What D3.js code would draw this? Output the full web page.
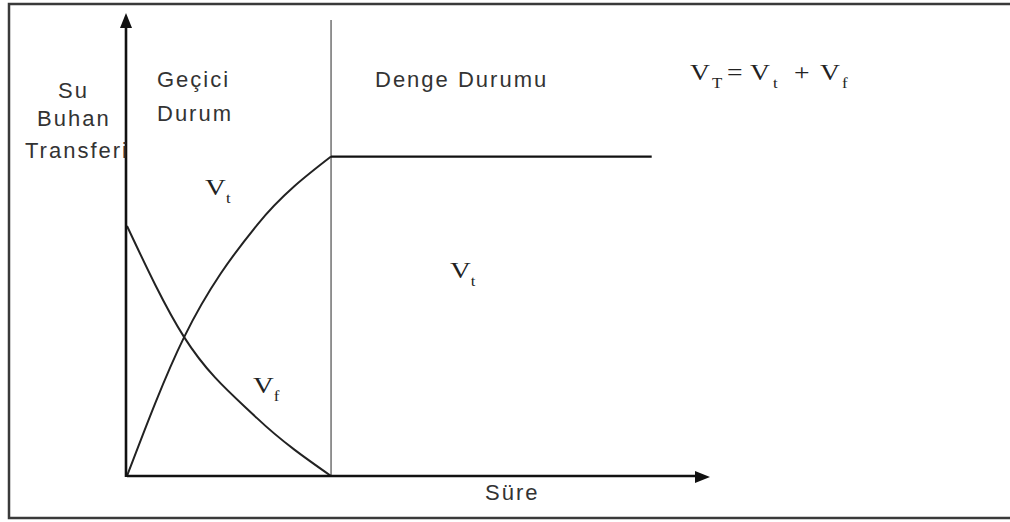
<!DOCTYPE html>
<html>
<head>
<meta charset="utf-8">
<script src="https://cdn.jsdelivr.net/npm/d3@7"></script>
<style>
  html, body { margin: 0; padding: 0; background: #fff; }
  svg { display: block; }
</style>
</head>
<body>
<script>
const WIDTH = 1010;
const HEIGHT = 522;
const SANS = "'Liberation Sans', Arial, sans-serif";
const SERIF = "'Liberation Serif', 'Times New Roman', serif";

// time where the transient state ends
const TRANSITION = 3.5;

// V_t, transient part (rising)
const TIME_VT = [0, 0.98, 2.23, 3.5];
const VT = [0, 3.0, 5.42, 6.9];

// V_f (falling)
const TIME_VF = [0, 0.98, 2.23, 3.5];
const VF = [5.4, 3.0, 1.25, 0];

// V_t, steady state
const TIME_STEADY = [3.5, 9.0];
const VT_STEADY = [6.9, 6.9];

// curve labels: main letter, subscript, anchor in data units
const LABEL_TEXT = ["V", "V", "V"];
const LABEL_SUB = ["t", "t", "f"];
const LABEL_T = [1.34, 5.54, 2.16];
const LABEL_V = [6.07, 4.28, 1.79];

const svg = d3.select("body").append("svg")
  .attr("width", WIDTH).attr("height", HEIGHT);

// frame (right edge falls outside the picture)
svg.append("rect")
  .attr("x", 9).attr("y", 4)
  .attr("width", 1100).attr("height", 514)
  .attr("fill", "none").attr("stroke", "#3a3a3a").attr("stroke-width", 2.5);

const x = d3.scaleLinear().domain([0, 10]).range([127, 710]);
const y = d3.scaleLinear().domain([0, 10]).range([476, 13]);

const zip = (ts, vs) => ts.map((t, i) => [t, vs[i]]);

const line = d3.line()
  .x(d => x(d[0]))
  .y(d => y(d[1]))
  .curve(d3.curveMonotoneX);

// divider between transient and steady state
svg.append("line")
  .attr("x1", x(TRANSITION)).attr("x2", x(TRANSITION))
  .attr("y1", 20).attr("y2", y(0))
  .attr("stroke", "#666").attr("stroke-width", 1.4);

svg.append("path")
  .attr("d", line(zip(TIME_VT, VT)))
  .attr("fill", "none").attr("stroke", "#222").attr("stroke-width", 2);

svg.append("path")
  .attr("d", line(zip(TIME_VF, VF)))
  .attr("fill", "none").attr("stroke", "#222").attr("stroke-width", 2);

svg.append("path")
  .attr("d", d3.line().x(d => x(d[0])).y(d => y(d[1]))(zip(TIME_STEADY, VT_STEADY)))
  .attr("fill", "none").attr("stroke", "#111").attr("stroke-width", 2.2);

// axes with arrowheads
const [x0, x1] = x.range();
const [y0, y1] = y.range();

svg.append("line")
  .attr("x1", x0).attr("x2", x1 - 10).attr("y1", y0).attr("y2", y0)
  .attr("stroke", "#111").attr("stroke-width", 2.6);
svg.append("path")
  .attr("d", `M${x1},${y0 + 1}L${x1 - 15},${y0 - 5}L${x1 - 15},${y0 + 7}Z`)
  .attr("fill", "#111");

svg.append("line")
  .attr("x1", x0 - 1).attr("x2", x0 - 1).attr("y1", y0 + 1).attr("y2", y1 + 10)
  .attr("stroke", "#111").attr("stroke-width", 2.6);
svg.append("path")
  .attr("d", `M${x0 - 1},${y1}L${x0 - 7},${y1 + 15}L${x0 + 5},${y1 + 15}Z`)
  .attr("fill", "#111");

// sans labels
const sansText = (s, px, py) => svg.append("text")
  .attr("x", px).attr("y", py)
  .attr("font-family", SANS).attr("font-size", 22)
  .attr("letter-spacing", 2)
  .attr("fill", "#333")
  .text(s);

sansText("Su", 58, 98);
sansText("Buhan", 37, 126);
sansText("Transferi", 25, 158);
sansText("Geçici", 157, 87);
sansText("Durum", 157, 121);
sansText("Denge Durumu", 375, 87);
sansText("Süre", 485, 500);

// serif V labels, slightly stretched horizontally like the source
const STRETCH = 1.2;

LABEL_TEXT.forEach((s, i) => {
  const g = svg.append("g")
    .attr("transform", `translate(${x(LABEL_T[i])},${y(LABEL_V[i])}) scale(${STRETCH},1)`);
  const t = g.append("text")
    .attr("font-family", SERIF).attr("font-size", 24).attr("fill", "#222");
  t.append("tspan").text(s);
  t.append("tspan").attr("font-size", 14).attr("dy", 8).text(LABEL_SUB[i]);
});

// formula V_T = V_t + V_f
const formula = svg.append("g")
  .attr("transform", `translate(690,80) scale(${STRETCH},1)`)
  .append("text")
  .attr("font-family", SERIF).attr("font-size", 23).attr("fill", "#222");

const parts = [
  ["V", 0, false], ["T", 22, true], ["=", 37, false],
  ["V", 60, false], ["t", 83, true], ["+", 104, false],
  ["V", 130, false], ["f", 152, true]
];
parts.forEach(([s, dx, sub]) => {
  formula.append("tspan")
    .attr("x", dx / STRETCH)
    .attr("y", sub ? 8 : 0)
    .attr("font-size", sub ? 14 : 23)
    .text(s);
});
</script>
</body>
</html>
